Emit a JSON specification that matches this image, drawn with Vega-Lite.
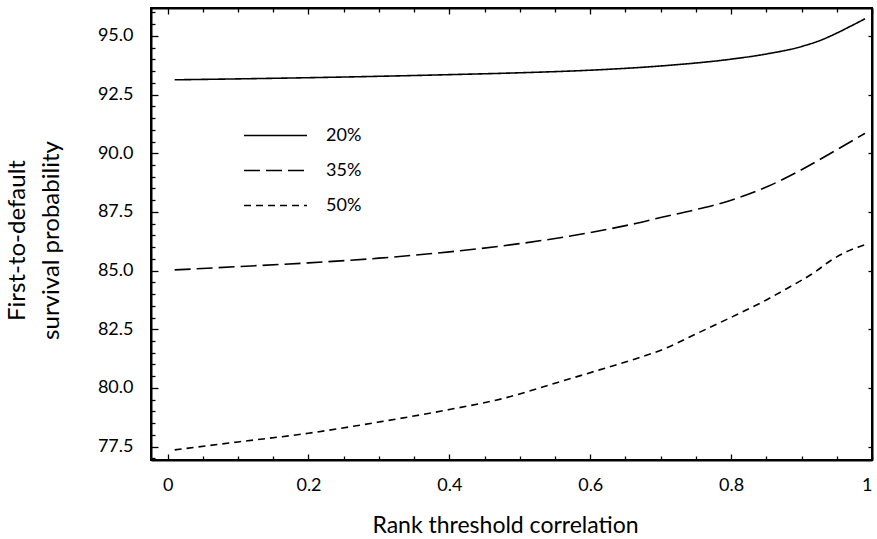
{
  "$schema": "https://vega.github.io/schema/vega-lite/v6.json",
  "width": 721,
  "height": 452,
  "autosize": {"type": "none"},
  "padding": {"left": 151, "top": 8, "right": 5, "bottom": 79},
  "background": "white",
  "config": {
    "view": {"stroke": "black", "strokeWidth": 2},
    "font": "Lato",
    "axis": {"grid": false, "domainColor": "black", "domainWidth": 2, "tickColor": "black", "tickWidth": 1.3, "labelColor": "black", "titleColor": "black", "labelFont": "Lato", "titleFont": "Lato", "titleFontWeight": "normal"}
  },
  "datasets": {
    "curves": [
      {"rho": 0.01, "p": 93.13, "level": "20%"},
      {"rho": 0.1, "p": 93.17, "level": "20%"},
      {"rho": 0.2, "p": 93.22, "level": "20%"},
      {"rho": 0.3, "p": 93.28, "level": "20%"},
      {"rho": 0.4, "p": 93.35, "level": "20%"},
      {"rho": 0.5, "p": 93.43, "level": "20%"},
      {"rho": 0.6, "p": 93.54, "level": "20%"},
      {"rho": 0.7, "p": 93.72, "level": "20%"},
      {"rho": 0.8, "p": 94.01, "level": "20%"},
      {"rho": 0.85, "p": 94.23, "level": "20%"},
      {"rho": 0.9, "p": 94.55, "level": "20%"},
      {"rho": 0.93, "p": 94.85, "level": "20%"},
      {"rho": 0.95, "p": 95.12, "level": "20%"},
      {"rho": 0.97, "p": 95.42, "level": "20%"},
      {"rho": 0.99, "p": 95.73, "level": "20%"},
      {"rho": 0.01, "p": 85.03, "level": "35%"},
      {"rho": 0.1, "p": 85.17, "level": "35%"},
      {"rho": 0.2, "p": 85.33, "level": "35%"},
      {"rho": 0.3, "p": 85.53, "level": "35%"},
      {"rho": 0.4, "p": 85.8, "level": "35%"},
      {"rho": 0.5, "p": 86.15, "level": "35%"},
      {"rho": 0.6, "p": 86.62, "level": "35%"},
      {"rho": 0.66, "p": 86.98, "level": "35%"},
      {"rho": 0.7, "p": 87.26, "level": "35%"},
      {"rho": 0.75, "p": 87.6, "level": "35%"},
      {"rho": 0.8, "p": 88.0, "level": "35%"},
      {"rho": 0.85, "p": 88.56, "level": "35%"},
      {"rho": 0.9, "p": 89.3, "level": "35%"},
      {"rho": 0.95, "p": 90.15, "level": "35%"},
      {"rho": 0.99, "p": 90.85, "level": "35%"},
      {"rho": 0.01, "p": 77.36, "level": "50%"},
      {"rho": 0.1, "p": 77.7, "level": "50%"},
      {"rho": 0.2, "p": 78.07, "level": "50%"},
      {"rho": 0.3, "p": 78.55, "level": "50%"},
      {"rho": 0.4, "p": 79.08, "level": "50%"},
      {"rho": 0.48, "p": 79.58, "level": "50%"},
      {"rho": 0.55, "p": 80.2, "level": "50%"},
      {"rho": 0.613, "p": 80.77, "level": "50%"},
      {"rho": 0.66, "p": 81.2, "level": "50%"},
      {"rho": 0.707, "p": 81.69, "level": "50%"},
      {"rho": 0.75, "p": 82.3, "level": "50%"},
      {"rho": 0.802, "p": 83.04, "level": "50%"},
      {"rho": 0.85, "p": 83.75, "level": "50%"},
      {"rho": 0.88, "p": 84.25, "level": "50%"},
      {"rho": 0.92, "p": 84.96, "level": "50%"},
      {"rho": 0.94, "p": 85.4, "level": "50%"},
      {"rho": 0.96, "p": 85.75, "level": "50%"},
      {"rho": 0.98, "p": 86.0, "level": "50%"},
      {"rho": 0.99, "p": 86.1, "level": "50%"}
    ],
    "anchor": [{"rho": 0.5, "p": 85}]
  },
  "resolve": {"axis": {"x": "independent", "y": "independent"}},
  "layer": [
    {
      "data": {"name": "curves"},
      "mark": {"type": "line", "color": "black", "strokeWidth": 1.6, "interpolate": "monotone"},
      "encoding": {
        "x": {
          "field": "rho", "type": "quantitative",
          "scale": {"domain": [-0.0236, 1.0], "nice": false, "zero": false},
          "axis": {
            "orient": "bottom", "values": [0, 0.2, 0.4, 0.6, 0.8, 1],
            "tickSize": -6, "labelPadding": 22, "labelFontSize": 18,
            "labelExpr": "format(datum.value, '~g')",
            "title": "Rank threshold correlation", "titleFontSize": 23,
            "titleX": 354, "titleY": 72, "titleBaseline": "alphabetic", "titleAlign": "center"
          }
        },
        "y": {
          "field": "p", "type": "quantitative",
          "scale": {"domain": [76.93, 96.19], "nice": false, "zero": false},
          "axis": {
            "orient": "left", "values": [77.5, 80, 82.5, 85, 87.5, 90, 92.5, 95],
            "format": ".1f", "tickSize": -7, "labelPadding": 25, "labelFontSize": 18,
            "title": ["First-to-default", "survival probability"], "titleFontSize": 24,
            "titleLineHeight": 34, "titleX": -134, "titleY": 232,
            "titleBaseline": "middle", "titleAlign": "center", "titleAngle": -90
          }
        },
        "strokeDash": {
          "field": "level", "type": "nominal",
          "scale": {"domain": ["20%", "35%", "50%"], "range": [[1, 0], [16, 6], [7, 5]]},
          "legend": {
            "title": null, "orient": "none", "legendX": 92, "legendY": 110, "padding": 0,
            "symbolType": "stroke", "symbolSize": 3969, "symbolStrokeWidth": 1.6,
            "symbolStrokeColor": "black", "labelFontSize": 18, "labelOffset": 18,
            "labelFont": "Lato", "labelColor": "black", "rowPadding": 0, "clipHeight": 35
          }
        }
      }
    },
    {
      "data": {"name": "anchor"},
      "mark": {"type": "point", "opacity": 0},
      "encoding": {
        "x": {"field": "rho", "type": "quantitative", "axis": {
          "orient": "bottom", "values": [0.05, 0.1, 0.15, 0.25, 0.3, 0.35, 0.45, 0.5, 0.55, 0.65, 0.7, 0.75, 0.85, 0.9, 0.95],
          "tickSize": -4, "labels": false, "domain": false, "title": null}},
        "y": {"field": "p", "type": "quantitative", "axis": {
          "orient": "left", "values": [77, 78, 78.5, 79, 79.5, 80.5, 81, 81.5, 82, 83, 83.5, 84, 84.5, 85.5, 86, 86.5, 87, 88, 88.5, 89, 89.5, 90.5, 91, 91.5, 92, 93, 93.5, 94, 94.5, 95.5, 96],
          "tickSize": -4, "labels": false, "domain": false, "title": null}}
      }
    },
    {
      "data": {"name": "anchor"},
      "mark": {"type": "point", "opacity": 0},
      "encoding": {
        "x": {"field": "rho", "type": "quantitative", "axis": {
          "orient": "top", "values": [0.05, 0.1, 0.15, 0.25, 0.3, 0.35, 0.45, 0.5, 0.55, 0.65, 0.7, 0.75, 0.85, 0.9, 0.95],
          "tickSize": -4, "labels": false, "domain": true, "title": null}},
        "y": {"field": "p", "type": "quantitative", "axis": {
          "orient": "right", "values": [77.5, 80, 82.5, 85, 87.5, 90, 92.5, 95],
          "tickSize": -4, "labels": false, "domain": true, "title": null}}
      }
    },
    {
      "data": {"name": "anchor"},
      "mark": {"type": "point", "opacity": 0},
      "encoding": {
        "x": {"field": "rho", "type": "quantitative", "axis": {
          "orient": "top", "values": [0, 0.2, 0.4, 0.6, 0.8, 1],
          "tickSize": -6, "labels": false, "domain": false, "title": null}},
        "y": {"field": "p", "type": "quantitative", "axis": null}
      }
    }
  ]
}
